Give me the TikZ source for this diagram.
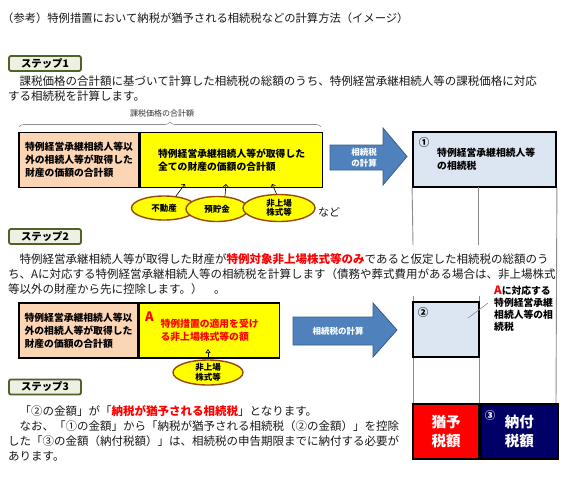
\documentclass[tikz,border=0pt]{standalone}
\usepackage{fontspec}
\setmainfont{Noto Sans CJK JP}
\usetikzlibrary{arrows.meta,positioning,shapes.geometric,decorations.pathreplacing}
\definecolor{StepGreen}{HTML}{4F6228}
\definecolor{StepFill}{HTML}{EEF0E2}
\definecolor{AssetPink}{HTML}{FCD5B5}
\definecolor{AssetYellow}{HTML}{FFFF00}
\definecolor{EllBrown}{HTML}{984807}
\definecolor{CalcBlue}{HTML}{4F81BD}
\definecolor{CalcEdge}{HTML}{385D8A}
\definecolor{TaxBlue}{HTML}{DCE6F2}
\definecolor{TaxRed}{HTML}{FF0000}
\definecolor{TaxNavy}{HTML}{000066}
\definecolor{GridGray}{HTML}{8C8C8C}
\tikzset{
  stepbox/.style={draw=StepGreen,fill=StepFill,line width=1.8pt,rounded corners=2pt,minimum width=72pt,minimum height=15pt,inner sep=0pt,font=\fontsize{10.4}{12}\selectfont\bfseries},
  bodytext/.style={anchor=west,align=left,inner sep=0pt,text=black!90,font=\fontsize{11.5}{15}\selectfont},
  pinkbox/.style={draw,line width=1.6pt,fill=AssetPink,minimum width=120pt,minimum height=55pt,inner sep=0pt,align=left,font=\fontsize{9.8}{13}\selectfont\bfseries},
  yellowbox/.style={pinkbox,fill=AssetYellow},
  assetell/.style={ellipse,draw=EllBrown,line width=1.4pt,fill=AssetYellow,inner sep=0pt,align=center,font=\fontsize{8.5}{9.5}\selectfont\bfseries},
  uparrow/.style={-{Straight Barb[length=2.5pt,width=5pt]},line width=0.6pt},
  uparrowB/.style={-{Triangle[open,length=4pt,width=5pt]},line width=0.6pt},
  calcarrow/.style={fill=CalcBlue,draw=CalcEdge,line width=0.8pt},
  calclabel/.style={text=white,align=center,inner sep=0pt,font=\fontsize{8.5}{11}\selectfont\bfseries},
  taxbox/.style={draw,line width=1.8pt,fill=TaxBlue,inner sep=0pt},
  paybox/.style={draw,line width=1.8pt,text=white,minimum height=55pt,inner sep=0pt,align=center,font=\fontsize{14.5}{19}\selectfont\bfseries},
  numlbl/.style={inner sep=0pt,font=\fontsize{10.5}{12}\selectfont\bfseries},
  smalllabel/.style={anchor=west,align=left,inner sep=0pt,font=\fontsize{9.8}{13}\selectfont\bfseries},
  gridline/.style={draw=GridGray,line width=0.9pt},
  bracebrace/.style={decorate,decoration={brace,amplitude=5pt},draw=GridGray,line width=0.6pt}
}
\begin{document}
\begin{tikzpicture}[x=1pt,y=-1pt]
\useasboundingbox (0,0) rectangle (567,479);
\fill[white] (0,0) rectangle (567,479);

\node[bodytext,font=\fontsize{11.3}{14}\selectfont] (title) at (2,18) {（参考）特例措置において納税が猶予される相続税などの計算方法（イメージ）};

% step 1
\node[stepbox] (st1) at (45,63.5) {ステップ1};
\node[bodytext] (tx1) at (8,88.5) {　課税価格の合計額に基づいて計算した相続税の総額のうち、特例経営承継相続人等の課税価格に対応\\する相続税を計算します。};
\draw[black!90,line width=0.9pt] (20,88.6) -- (111.5,88.6);

\node[pinkbox] (restA) at (79,160) {特例経営承継相続人等以\\外の相続人等が取得した\\財産の価額の合計額};
\node[yellowbox,minimum width=182pt,right=0pt of restA] (allA) {特例経営承継相続人等が取得した\\全ての財産の価額の合計額};
\draw[bracebrace] (19,127) -- (321,127);
\node[inner sep=0pt,font=\fontsize{8}{9}\selectfont,text=black!80] (sumlbl) at (162,113) {課税価格の合計額};

\node[assetell,minimum width=65pt,minimum height=24pt] (land) at (164,208) {不動産};
\node[assetell,minimum width=62pt,minimum height=25pt] (dep) at (217,209) {預貯金};
\node[assetell,minimum width=72pt,minimum height=27pt] (stk) at (279,208) {非上場\\株式等};
\node[bodytext,font=\fontsize{11}{13}\selectfont] (etc) at (318,212) {など};
\coordinate (in1) at (185,184);
\coordinate (in2) at (226,184);
\coordinate (in3) at (272,184);
\draw[uparrow] (land.45) -- (in1);
\draw[uparrow] (dep.58) -- (in2);
\draw[uparrow] (stk.100) -- (in3);

\draw[calcarrow] (330,145) -- (383,145) -- (383,128) -- (407,156.5) -- (383,185) -- (383,170) -- (330,170) -- cycle;
\node[calclabel] (calc1) at (364,157.5) {相続税\\の計算};

% right column
\node[taxbox,minimum width=143pt,minimum height=55pt] (tax1) at (484.5,159.5) {};
\node[numlbl] (n1) at (424,143) {①};
\node[smalllabel] (t1lbl) at (437,159.5) {特例経営承継相続人等\\の相続税};
\draw[gridline] (tax1.south west) -- (413,245);
\draw[gridline] (478.5,187) -- (478.5,245);
\draw[gridline] (tax1.south east) -- (556,404);
\draw[gridline] (413,296) -- (413,404);
\draw[gridline] (479,296) -- (479,404);

\node[taxbox,minimum width=66pt,minimum height=55pt] (tax2) at (446,329.5) {};
\node[numlbl] (n2) at (423,313) {②};
\node[smalllabel,font=\fontsize{9.8}{12}\selectfont\bfseries] (alabel) at (494,309) {{\color{TaxRed}\fontsize{11.5}{12}\selectfont A}に対応する\\特例経営承継\\相続人等の相\\続税};
\coordinate (ldA) at (468,318);
\coordinate (ldB) at (488,303);
\draw[gridline,line width=0.6pt] (ldA) -- (ldB);

\node[paybox,fill=TaxRed,minimum width=66pt] (defer) at (446,431.5) {猶予\\税額};
\node[paybox,fill=TaxNavy,minimum width=77pt,right=0pt of defer] (pay) {納付\\税額};
\node[numlbl,text=white] (n3) at (490,416) {③};

% step 2
\node[stepbox] (st2) at (45,236.5) {ステップ2};
\node[bodytext] (tx2) at (8,274) {　特例経営承継相続人等が取得した財産が{\color{TaxRed}\bfseries 特例対象非上場株式等のみ}であると仮定した相続税の総額のう\\ち、Aに対応する特例経営承継相続人等の相続税を計算します（債務や葬式費用がある場合は、非上場株式\\等以外の財産から先に控除します。）　。};

\node[pinkbox,minimum width=119pt] (restB) at (78.5,330.5) {特例経営承継相続人等以\\外の相続人等が取得した\\財産の価額の合計額};
\node[yellowbox,minimum width=140pt,text=TaxRed,right=0pt of restB] (stkB) {特例措置の適用を受け\\る非上場株式等の額};
\node[inner sep=0pt,text=TaxRed,font=\fontsize{13}{13}\selectfont\bfseries] (markA) at (149.5,316.5) {A};
\node[assetell,minimum width=70pt,minimum height=25pt] (stkE) at (208,372.5) {非上場\\株式等};
\coordinate (inB) at (208,349);
\draw[uparrowB] (stkE.north) -- (inB);

\draw[calcarrow] (293,317) -- (373,317) -- (373,303) -- (397,330) -- (373,357) -- (373,345) -- (293,345) -- cycle;
\node[calclabel] (calc2) at (338,331) {相続税の計算};

% step 3
\node[stepbox] (st3) at (45,387) {ステップ3};
\node[bodytext] (tx3) at (8,433.5) {　「②の金額」が「{\color{TaxRed}\bfseries 納税が猶予される相続税}」となります。\\　なお、「①の金額」から「納税が猶予される相続税（②の金額）」を控除\\した「③の金額（納付税額）」は、相続税の申告期限までに納付する必要が\\あります。};
\end{tikzpicture}
\end{document}
